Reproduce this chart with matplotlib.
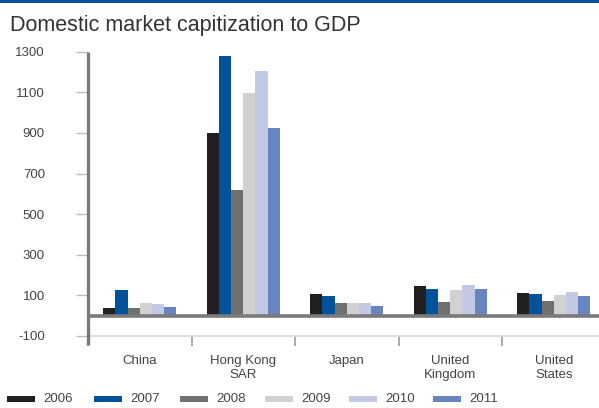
import numpy as np
import matplotlib.pyplot as plt
from matplotlib.lines import Line2D
from matplotlib.patches import Rectangle

plt.rcParams['font.family'] = ['Liberation Sans', 'DejaVu Sans']

countries = ["China", "Hong Kong\nSAR", "Japan", "United\nKingdom", "United\nStates"]
years = ["2006", "2007", "2008", "2009", "2010", "2011"]
colors = ["#231f20", "#00529b", "#707073", "#d1d1d1", "#c3c9e4", "#6985bf"]

v2006 = [36, 898, 105, 145, 110]
v2007 = [125, 1278, 96, 130, 105]
v2008 = [36, 617, 61, 66, 71]
v2009 = [61, 1096, 61, 125, 100]
v2010 = [56, 1204, 61, 150, 115]
v2011 = [41, 923, 46, 130, 96]
series = [v2006, v2007, v2008, v2009, v2010, v2011]

yticks = [-100, 100, 300, 500, 700, 900, 1100, 1300]

W, H = 599, 408
fig = plt.figure(figsize=(W / 100, H / 100), dpi=100)

# blue rule across the top
fig.add_artist(Rectangle((0, 1 - 3 / H), 1, 3 / H, transform=fig.transFigure,
                         color="#0a4f9a", lw=0))
fig.text(10 / W, 1 - 25 / H, "Domestic market capitization to GDP", fontsize=15.5,
         color="#333333", va="center", ha="left")

ax_l, ax_r = 88, 605.5
ax_b, ax_t = 336, 51.7
ax = fig.add_axes([ax_l / W, (H - ax_b) / H, (ax_r - ax_l) / W, (ax_b - ax_t) / H])

x = np.arange(len(countries)) + 0.5
bw = 0.118
for i, (vals, c) in enumerate(zip(series, colors)):
    ax.bar(x + (i - 2.5) * bw, vals, width=bw, color=c, zorder=2)

ax.set_xlim(0, 5)
ax.set_ylim(-100, 1300)

# thick zero line
ax.axhline(0, color="#7a7a7a", lw=2.6, zorder=3)

for s in ["top", "right", "left"]:
    ax.spines[s].set_visible(False)
ax.spines["bottom"].set_color("#d8d8d8")
ax.spines["bottom"].set_linewidth(1.2)

# left axis line, running a little below the bottom
ax.add_line(Line2D([0, 0], [-0.03, 1], transform=ax.transAxes, color="#7a7a7a",
                   lw=2.4, clip_on=False, zorder=4, solid_capstyle="butt"))

ax.set_yticks(yticks)
ax.set_yticklabels([str(t) for t in yticks])
ax.tick_params(axis="y", length=9, width=1, color="#bdbdbd", pad=22,
               labelsize=9.5, labelcolor="#444444")

ax.set_xticks(x)
ax.set_xticklabels(countries)
ax.set_xticks(np.arange(0, 6), minor=True)
ax.tick_params(axis="x", which="major", length=0, pad=14, labelsize=9.5,
               labelcolor="#444444")
ax.tick_params(axis="x", which="minor", length=7, width=1.2, color="#9a9a9a")

# legend along the bottom edge
lx = [7, 94, 180, 265, 349, 433]
for xi, yr, c in zip(lx, years, colors):
    fig.add_artist(Rectangle((xi / W, (H - 402) / H), 28 / W, 6.5 / H,
                             transform=fig.transFigure, color=c, lw=0))
    fig.text((xi + 36) / W, (H - 399) / H, yr, fontsize=9.5, color="#444444",
             va="center", ha="left")

fig.savefig("out.png", dpi=100)
